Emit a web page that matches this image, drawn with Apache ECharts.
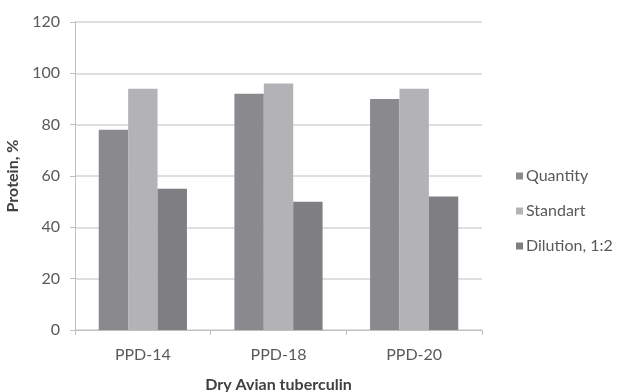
<!DOCTYPE html>
<html>
<head>
<meta charset="utf-8">
<script src="https://cdn.jsdelivr.net/npm/echarts@6/dist/echarts.min.js"></script>
<style>
  html, body { margin: 0; padding: 0; background: #ffffff; }
  #chart { width: 617px; height: 392px; }
</style>
</head>
<body>
<div id="chart"></div>
<script>
// Protein content of dry avian tuberculin preparations
const categories = ['PPD-14', 'PPD-18', 'PPD-20'];
const quantity = [78, 92, 90];
const standart = [94, 96, 94];
const dilution = [55, 50, 52];
const yTicks = { min: 0, max: 120, interval: 20 };

const FONT = 'Lato, "Open Sans", sans-serif';
const TEXT = '#595959';

const chart = echarts.init(document.getElementById('chart'), null, { renderer: 'canvas' });

function bar(name, data, color) {
  return {
    name: name,
    type: 'bar',
    data: data,
    barGap: '0%',
    barCategoryGap: '35%',
    itemStyle: { color: color },
    emphasis: { disabled: true }
  };
}

chart.setOption({
  animation: false,
  backgroundColor: '#ffffff',
  textStyle: { fontFamily: FONT },
  grid: { left: 75, right: 135, top: 22, bottom: 62, outerBoundsMode: 'none' },
  legend: {
    orient: 'vertical',
    left: 511,
    top: 162,
    itemWidth: 7,
    itemHeight: 7,
    itemGap: 17,
    icon: 'rect',
    textStyle: { color: TEXT, fontSize: 16, fontFamily: FONT, lineHeight: 18, padding: [0, 0, 0, -2] },
    data: ['Quantity', 'Standart', 'Dilution, 1:2']
  },
  xAxis: {
    type: 'category',
    data: categories,
    name: 'Dry Avian tuberculin',
    nameLocation: 'middle',
    nameGap: 47,
    nameTextStyle: { color: '#404040', fontSize: 16, fontWeight: 'bold', fontFamily: FONT },
    axisLine: { show: true, lineStyle: { color: '#bfbfbf', width: 1 } },
    axisTick: { show: true, length: 5, lineStyle: { color: '#bfbfbf' } },
    axisLabel: { color: TEXT, fontSize: 16, margin: 17, fontFamily: FONT }
  },
  yAxis: {
    type: 'value',
    min: yTicks.min,
    max: yTicks.max,
    interval: yTicks.interval,
    name: 'Protein, %',
    nameLocation: 'middle',
    nameGap: 53,
    nameTextStyle: { color: '#404040', fontSize: 16, fontWeight: 'bold', fontFamily: FONT },
    axisLine: { show: true, lineStyle: { color: '#bfbfbf', width: 1 } },
    axisTick: { show: true, length: 5, lineStyle: { color: '#bfbfbf' } },
    axisLabel: { color: TEXT, fontSize: 16, margin: 15, fontFamily: FONT },
    splitLine: { show: true, lineStyle: { color: '#d4d4d4', width: 1.5 } }
  },
  series: [
    bar('Quantity', quantity, '#8a8a8e'),
    bar('Standart', standart, '#b3b3b7'),
    bar('Dilution, 1:2', dilution, '#7e7e83')
  ]
});
</script>
</body>
</html>
